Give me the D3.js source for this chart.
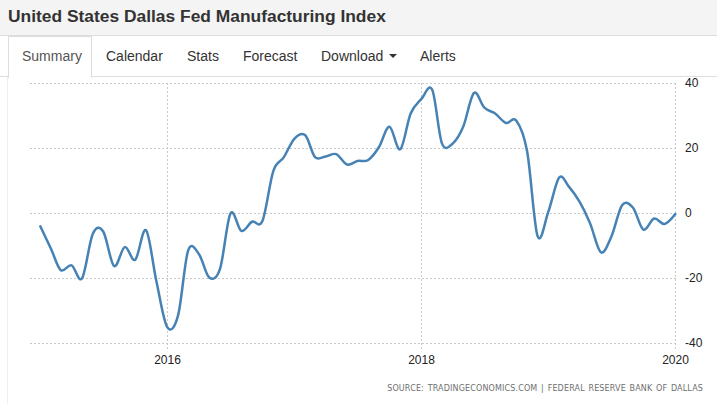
<!DOCTYPE html>
<html><head><meta charset="utf-8">
<script src="https://cdn.jsdelivr.net/npm/d3@7"></script>
<style>
html,body{margin:0;padding:0;background:#fff;width:717px;height:404px;overflow:hidden;}
svg{display:block;}
</style></head>
<body>
<script>
const title = "United States Dallas Fed Manufacturing Index";
const tabs = ["Summary","Calendar","Stats","Forecast","Download","Alerts"];
const tabX = [22,106,187,243,321,420];
const startYear = 2015;
const values = [
  -4.0,-11.0,-17.5,-16.0,-20.0,-6.3,-5.6,-16.2,-10.4,-14.3,-5.2,-21.0,
  -35.0,-31.5,-11.5,-12.5,-19.8,-17.0,0.0,-5.4,-2.6,-2.3,13.0,17.2,
  23.0,24.0,17.3,17.5,18.2,15.0,16.1,16.4,20.4,26.6,19.7,30.7,
  35.2,38.0,21.5,21.5,26.6,37.0,32.5,30.7,27.8,28.5,19.0,-7.0,
  0.5,11.0,8.2,3.5,-3.1,-12.0,-7.2,2.5,1.8,-5.0,-1.6,-3.3,
  -0.2
];
const yTicks = [40,20,0,-20,-40];
const xTickYears = [2016,2018,2020];
const sourceText = "SOURCE: TRADINGECONOMICS.COM | FEDERAL RESERVE BANK OF DALLAS";

const data = values.map((v,i)=>({date:new Date(Date.UTC(startYear + Math.floor(i/12), i%12, 1)), value:v}));

const svg = d3.select("body").append("svg").attr("width",717).attr("height",404);

// header
svg.append("rect").attr("x",0).attr("y",0).attr("width",717).attr("height",35).attr("fill","#f4f4f4");
svg.append("line").attr("x1",0).attr("x2",717).attr("y1",35.5).attr("y2",35.5).attr("stroke","#ddd");
svg.append("text").attr("x",8).attr("y",22).attr("font-family","Liberation Sans, Arial, sans-serif")
  .attr("font-size",17.4).attr("font-weight","bold").attr("fill","#333").text(title);

// tabs
svg.append("line").attr("x1",0).attr("x2",717).attr("y1",76.5).attr("y2",76.5).attr("stroke","#ddd");
svg.append("rect").attr("x",8.5).attr("y",36.5).attr("width",83).attr("height",41).attr("fill","#fff").attr("stroke","#ddd");
svg.append("rect").attr("x",9).attr("y",76).attr("width",82).attr("height",2).attr("fill","#fff");
tabs.forEach((t,i)=>{
  svg.append("text").attr("x",tabX[i]).attr("y",61).attr("font-family","Liberation Sans, Arial, sans-serif")
    .attr("font-size",14).attr("fill", i===0? "#555":"#333").text(t);
});
svg.append("path").attr("d","M389,54 L397,54 L393,58 Z").attr("fill","#333");
svg.append("line").attr("x1",7.5).attr("x2",7.5).attr("y1",77).attr("y2",404).attr("stroke","#eee");

// scales
const x = d3.scaleUtc().domain([new Date(Date.UTC(2015,0,1)), new Date(Date.UTC(2020,0,1))]).range([40.3,675.3]);
const y = d3.scaleLinear().domain([-40,40]).range([343.3,83.3]);

// grid + axis labels
const g = svg.append("g");
yTicks.forEach(t=>{
  g.append("line").attr("x1",30).attr("x2",676).attr("y1",Math.round(y(t))+0.5).attr("y2",Math.round(y(t))+0.5)
    .attr("stroke","#c8c8c8").attr("stroke-dasharray","2,2");
  g.append("text").attr("x",685).attr("y",y(t)+4).attr("font-family","Liberation Sans, Arial, sans-serif")
    .attr("font-size",12).attr("fill","#222").text(t);
});
xTickYears.forEach(yr=>{
  const xx = Math.round(x(new Date(Date.UTC(yr,0,1))))+0.5;
  g.append("line").attr("x1",xx).attr("x2",xx).attr("y1",83).attr("y2",349)
    .attr("stroke","#c8c8c8").attr("stroke-dasharray","2,2");
  g.append("text").attr("x",xx).attr("y",364).attr("text-anchor","middle").attr("font-family","Liberation Sans, Arial, sans-serif")
    .attr("font-size",12).attr("fill","#222").text(yr);
});

// line
const line = d3.line().x(d=>x(d.date)).y(d=>y(d.value)).curve(d3.curveCatmullRom.alpha(0));
svg.append("path").datum(data).attr("d",line).attr("fill","none").attr("stroke","#4682b4").attr("stroke-width",2.5)
  .attr("stroke-linejoin","round").attr("stroke-linecap","round");

// source
svg.append("text").attr("x",703).attr("y",391).attr("text-anchor","end").attr("font-family","DejaVu Sans, Verdana, sans-serif")
  .attr("font-size",8).attr("letter-spacing","0.15").attr("word-spacing","1").attr("fill","#6f6f6f").text(sourceText);
</script>
</body></html>
